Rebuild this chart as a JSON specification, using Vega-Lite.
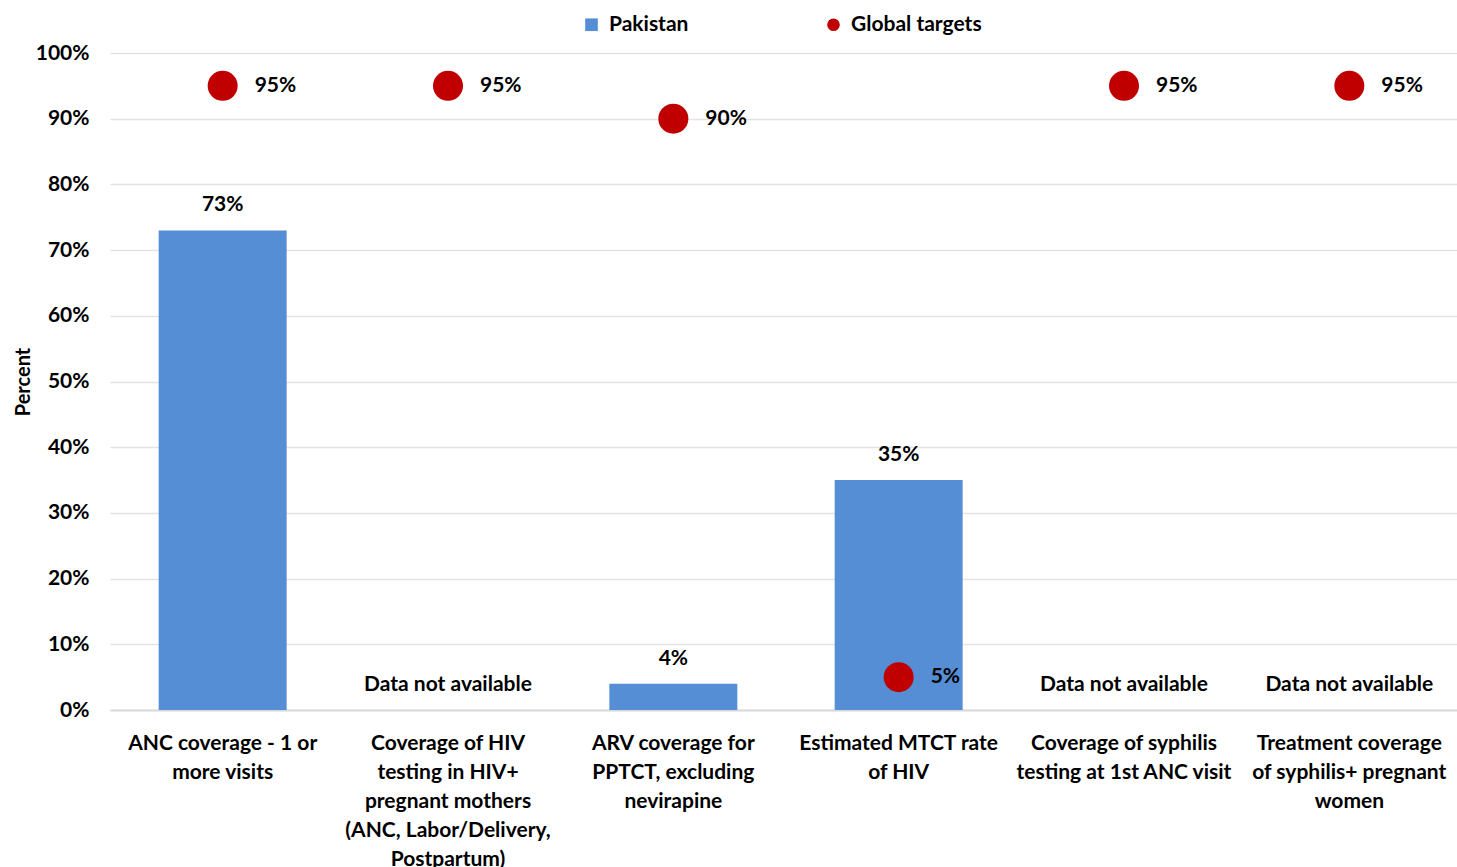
{
  "$schema": "https://vega.github.io/schema/vega-lite/v6.json",
  "width": 1352,
  "height": 657,
  "autosize": {"type": "none"},
  "padding": {"left": 110, "top": 53, "right": 0, "bottom": 157},
  "background": "white",
  "config": {
    "view": {"stroke": null},
    "font": "Lato",
    "text": {"font": "Lato", "fontWeight": "bold", "fontSize": 21, "color": "black"},
    "axisY": {
      "titleFont": "Lato",
      "titleFontWeight": "bold",
      "titleFontSize": 20,
      "titleColor": "black",
      "titlePadding": 2,
      "labelFont": "Lato",
      "labelFontWeight": "bold",
      "labelFontSize": 21,
      "labelColor": "black",
      "labelPadding": 21,
      "labelOverlap": false,
      "ticks": false,
      "domain": false,
      "gridColor": "#e3e3e3",
      "gridWidth": 1.5
    }
  },
  "data": {
    "values": [
      {"indicator": "ANC coverage - 1 or|more visits", "pakistan": 0.73, "target": 0.95},
      {"indicator": "Coverage of HIV|testing in HIV+|pregnant mothers|(ANC, Labor/Delivery,|Postpartum)", "pakistan": null, "target": 0.95},
      {"indicator": "ARV coverage for|PPTCT, excluding|nevirapine", "pakistan": 0.04, "target": 0.90},
      {"indicator": "Estimated MTCT rate|of HIV", "pakistan": 0.35, "target": 0.05},
      {"indicator": "Coverage of syphilis|testing at 1st ANC visit", "pakistan": null, "target": 0.95},
      {"indicator": "Treatment coverage|of syphilis+ pregnant|women", "pakistan": null, "target": 0.95}
    ]
  },
  "encoding": {
    "x": {
      "field": "indicator",
      "type": "nominal",
      "sort": null,
      "scale": {
        "domain": [
          "ANC coverage - 1 or|more visits",
          "Coverage of HIV|testing in HIV+|pregnant mothers|(ANC, Labor/Delivery,|Postpartum)",
          "ARV coverage for|PPTCT, excluding|nevirapine",
          "Estimated MTCT rate|of HIV",
          "Coverage of syphilis|testing at 1st ANC visit",
          "Treatment coverage|of syphilis+ pregnant|women"
        ],
        "paddingInner": 0.432,
        "paddingOuter": 0.216
      },
      "axis": {
        "title": null,
        "labelAngle": 0,
        "labelExpr": "split(datum.label, '|')",
        "labelFont": "Lato",
        "labelFontWeight": "bold",
        "labelFontSize": 21,
        "labelColor": "black",
        "labelLineHeight": 29,
        "labelPadding": 22,
        "labelLimit": 400,
        "labelOverlap": false,
        "ticks": false,
        "domainColor": "#d9d9d9",
        "domainWidth": 2
      }
    }
  },
  "layer": [
    {
      "mark": {"type": "bar"},
      "encoding": {
        "y": {
          "field": "pakistan",
          "type": "quantitative",
          "scale": {"domain": [0, 1]},
          "axis": {"title": "Percent", "format": ".0%", "values": [0, 0.1, 0.2, 0.3, 0.4, 0.5, 0.6, 0.7, 0.8, 0.9, 1]}
        },
        "color": {
          "datum": "Pakistan",
          "type": "nominal",
          "scale": {"domain": ["Pakistan", "Global targets"], "range": ["#558ED5", "#C00000"]},
          "legend": {
            "title": null,
            "orient": "none",
            "direction": "horizontal",
            "legendX": 471,
            "legendY": -39,
            "labelFont": "Lato",
            "labelFontWeight": "bold",
            "labelFontSize": 21,
            "labelColor": "black",
            "symbolSize": 160,
            "symbolStrokeWidth": 0,
            "labelOffset": 7,
            "columnPadding": 134,
            "encode": {
              "symbols": {
                "update": {
                  "shape": {"signal": "datum.value === 'Pakistan' ? 'square' : 'circle'"},
                  "fillOpacity": {"value": 1}
                }
              }
            }
          }
        }
      }
    },
    {
      "mark": {"type": "point", "filled": true, "size": 900, "opacity": 1, "shape": "circle"},
      "encoding": {
        "y": {
          "field": "target",
          "type": "quantitative",
          "axis": {"title": "Percent", "format": ".0%", "values": [0, 0.1, 0.2, 0.3, 0.4, 0.5, 0.6, 0.7, 0.8, 0.9, 1]}
        },
        "color": {"datum": "Global targets", "type": "nominal"}
      }
    },
    {
      "transform": [{"filter": "datum.pakistan != null"}],
      "mark": {"type": "text", "dy": -25, "baseline": "middle"},
      "encoding": {
        "y": {
          "field": "pakistan",
          "type": "quantitative",
          "axis": {"title": "Percent", "format": ".0%", "values": [0, 0.1, 0.2, 0.3, 0.4, 0.5, 0.6, 0.7, 0.8, 0.9, 1]}
        },
        "text": {"field": "pakistan", "type": "quantitative", "format": ".0%"}
      }
    },
    {
      "transform": [{"filter": "datum.pakistan == null"}],
      "mark": {"type": "text", "dy": -25, "baseline": "middle"},
      "encoding": {
        "y": {
          "datum": 0,
          "type": "quantitative",
          "axis": {"title": "Percent", "format": ".0%", "values": [0, 0.1, 0.2, 0.3, 0.4, 0.5, 0.6, 0.7, 0.8, 0.9, 1]}
        },
        "text": {"value": "Data not available"}
      }
    },
    {
      "mark": {"type": "text", "dx": 32, "align": "left", "baseline": "middle"},
      "encoding": {
        "y": {
          "field": "target",
          "type": "quantitative",
          "axis": {"title": "Percent", "format": ".0%", "values": [0, 0.1, 0.2, 0.3, 0.4, 0.5, 0.6, 0.7, 0.8, 0.9, 1]}
        },
        "text": {"field": "target", "type": "quantitative", "format": ".0%"}
      }
    }
  ]
}
